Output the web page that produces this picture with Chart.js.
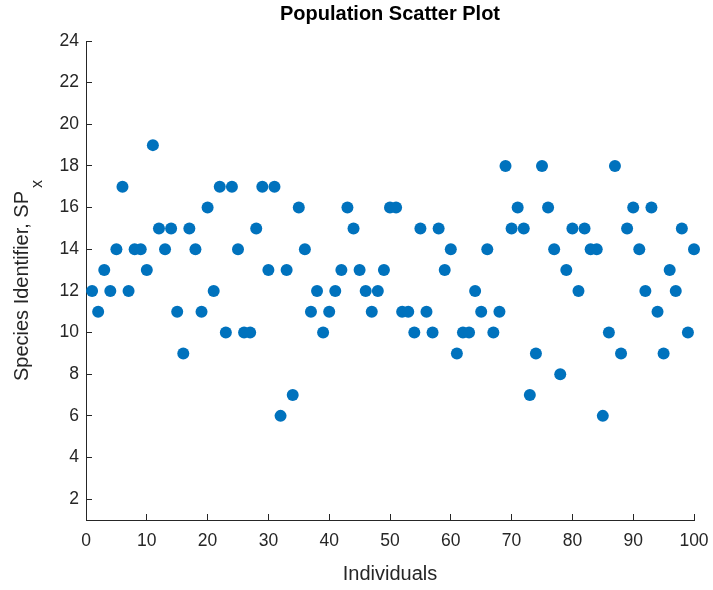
<!DOCTYPE html>
<html>
<head>
<meta charset="utf-8">
<script src="https://cdn.jsdelivr.net/npm/chart.js@4"></script>
<style>
  html, body { margin: 0; padding: 0; background: #fff; }
  #c { display: block; }
</style>
</head>
<body>
<canvas id="c" width="713" height="590"></canvas>
<script>
// ---- data ----
const individuals = [
  1,2,3,4,5,6,7,8,9,10,11,12,13,14,15,16,17,18,19,20,
  21,22,23,24,25,26,27,28,29,30,31,32,33,34,35,36,37,38,39,40,
  41,42,43,44,45,46,47,48,49,50,51,52,53,54,55,56,57,58,59,60,
  61,62,63,64,65,66,67,68,69,70,71,72,73,74,75,76,77,78,79,80,
  81,82,83,84,85,86,87,88,89,90,91,92,93,94,95,96,97,98,99,100
];
const speciesIds = [
  12,11,13,12,14,17,12,14,14,13,19,15,14,15,11,9,15,14,11,16,
  12,17,10,17,14,10,10,15,17,13,17,6,13,7,16,14,11,12,10,11,
  12,13,16,15,13,12,11,12,13,16,16,11,11,10,15,11,10,15,13,14,
  9,10,10,12,11,14,10,11,18,15,16,15,7,9,18,16,14,8,13,15,
  12,15,14,14,6,10,18,9,15,16,14,12,16,11,9,13,12,15,10,14
];
const xTickValues = [0,10,20,30,40,50,60,70,80,90,100];
const yTickValues = [2,4,6,8,10,12,14,16,18,20,22,24];
const chartTitle = 'Population Scatter Plot';
const xAxisLabel = 'Individuals';
const yAxisLabelMain = 'Species Identifier, SP';
const yAxisLabelSub = 'x';

const points = individuals.map((x, i) => ({ x: x, y: speciesIds[i] }));

const AXIS = '#262626';
const FONT = "'Liberation Sans', Arial, Helvetica, sans-serif";

const yLabelPlugin = {
  id: 'yLabelSub',
  afterDraw(chart) {
    const ctx = chart.ctx;
    const area = chart.chartArea;
    const mainFont = '20px ' + FONT;
    const subFont = '16px ' + FONT;
    ctx.save();
    ctx.font = mainFont;
    const wMain = ctx.measureText(yAxisLabelMain).width;
    ctx.font = subFont;
    const wSub = ctx.measureText(yAxisLabelSub).width;
    const gap = 3;
    const total = wMain + gap + wSub;
    const cy = (area.top + area.bottom) / 2;
    const baseX = 27.5;
    ctx.translate(baseX, cy);
    ctx.rotate(-Math.PI / 2);
    ctx.fillStyle = AXIS;
    ctx.textBaseline = 'alphabetic';
    ctx.textAlign = 'left';
    ctx.font = mainFont;
    ctx.fillText(yAxisLabelMain, -total / 2, 0);
    ctx.font = subFont;
    ctx.fillText(yAxisLabelSub, -total / 2 + wMain + gap, 14);
    ctx.restore();
  }
};

function zeroPad(scale) {
  scale.paddingLeft = 0; scale.paddingRight = 0;
  scale.paddingTop = 0; scale.paddingBottom = 0;
}

new Chart(document.getElementById('c'), {
  type: 'scatter',
  data: {
    datasets: [{
      data: points,
      backgroundColor: '#0072BD',
      borderColor: '#0072BD',
      borderWidth: 0,
      pointRadius: 6,
      pointHoverRadius: 6,
      clip: false
    }]
  },
  options: {
    responsive: false,
    animation: false,
    events: [],
    layout: { padding: { left: 0, right: 19, top: 0, bottom: 0 } },
    plugins: {
      legend: { display: false },
      tooltip: { enabled: false },
      title: {
        display: true,
        text: chartTitle,
        fullSize: false,
        color: '#000',
        font: { family: FONT, size: 20, weight: 'bold', lineHeight: 1.2 },
        padding: { top: 2, bottom: 15 }
      }
    },
    scales: {
      x: {
        type: 'linear',
        min: 0, max: 100,
        afterBuildTicks(scale) { scale.ticks = xTickValues.map(v => ({ value: v })); },
        afterFit(scale) { scale.height = 70; zeroPad(scale); },
        grid: { drawOnChartArea: false, drawTicks: true, tickLength: -6, tickColor: AXIS, tickWidth: 1 },
        border: { display: true, color: AXIS, width: 1 },
        ticks: { color: AXIS, font: { family: FONT, size: 17.5 }, padding: 17, maxRotation: 0 },
        title: {
          display: true, text: xAxisLabel, color: AXIS,
          font: { family: FONT, size: 20, lineHeight: 1.2 },
          padding: { top: 4, bottom: 4 }
        }
      },
      y: {
        type: 'linear',
        min: 1, max: 24,
        afterBuildTicks(scale) { scale.ticks = yTickValues.map(v => ({ value: v })); },
        afterFit(scale) { scale.width = 86; zeroPad(scale); },
        grid: { drawOnChartArea: false, drawTicks: true, tickLength: -6, tickColor: AXIS, tickWidth: 1 },
        border: { display: true, color: AXIS, width: 1 },
        ticks: { color: AXIS, font: { family: FONT, size: 17.5 }, padding: 13 },
        title: { display: false }
      }
    }
  },
  plugins: [yLabelPlugin]
});
</script>
</body>
</html>
